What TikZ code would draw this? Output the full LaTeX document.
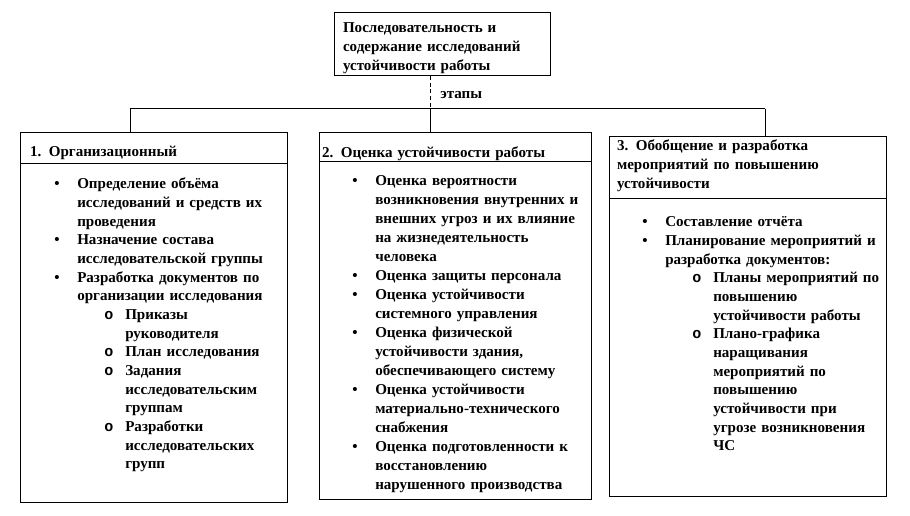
\documentclass[tikz,border=0pt]{standalone}
\usepackage{fontspec}
\setmainfont{Liberation Serif}
\setmonofont{Liberation Mono}
\newdimen\pix \pix=0.75pt
\newcommand{\nachalo}{\leftskip=57\pix\noindent\llap{\makebox[23\pix][l]{\textbullet}}}
\newcommand{\punkt}{\par\nachalo}
\newcommand{\podpunkt}{\par\leftskip=105\pix\noindent\llap{\makebox[21\pix][l]{\texttt{o}}}}
\tikzset{
  ramka/.style={draw, line width=0.75pt, outer sep=0pt, inner ysep=0pt, anchor=north west, align=left,
    font=\bfseries\fontsize{11.3}{13.9}\selectfont},
  spisok/.style={anchor=base west, inner sep=0pt, text width=300pt, align=left,
    font=\bfseries\fontsize{11.3}{14}\selectfont},
  linija/.style={line width=0.75pt}
}
\begin{document}
\begin{tikzpicture}[x=0.75pt, y=-0.75pt]
    \useasboundingbox (0,0) rectangle (910,516);
    % главный блок
    \node[ramka, minimum width=162pt, text height=15pt, text depth=32.25pt, inner xsep=6.75pt, text width=148.5pt]
      (glav) at (334,13) {Последовательность и\\содержание исследований\\устойчивости работы};
    % этапы
    \node[ramka, minimum width=200.25pt, text height=18pt, text depth=5.25pt, inner xsep=7.5pt, text width=185.25pt]
      (etap1) at (20,133) {1. Организационный};
    \node[ramka, minimum width=204pt, text height=18.75pt, text depth=3pt, inner xsep=2.25pt, text width=199.5pt]
      (etap2) at (319,133) {2. Оценка устойчивости работы};
    \node[ramka, minimum width=207.75pt, text height=10.5pt, text depth=36pt, inner xsep=6pt, text width=195.75pt]
      (etap3) at (609,137) {3. Обобщение и разработка\\мероприятий по повышению\\устойчивости};
    \node[ramka, minimum width=200.25pt, minimum height=253.5pt] (telo1) at (etap1.south west) {};
    \node[ramka, minimum width=204pt, minimum height=252.75pt] (telo2) at (etap2.south west) {};
    \node[ramka, minimum width=207.75pt, minimum height=222.75pt] (telo3) at (etap3.south west) {};
    % связи
    \coordinate (razv) at (430,109);
    \coordinate (lev) at (130,109);
    \coordinate (prav) at (765,109);
    \draw[linija, dash pattern=on 3pt off 2pt] (razv |- glav.south) -- (razv);
    \draw[linija] (lev) -- (prav);
    \draw[linija] (lev) -- (lev |- etap1.north);
    \draw[linija] (razv) -- (razv |- etap2.north);
    \draw[linija] (prav) -- (prav |- etap3.north);
    \node[anchor=west, inner sep=0pt, font=\bfseries\fontsize{11.3}{14}\selectfont] (etapy) at (440,95) {этапы};
    % содержание этапов
    \node[spisok] (sp1) at (20,189) {%
      \nachalo Определение объёма\\исследований и средств их\\проведения
      \punkt Назначение состава\\исследовательской группы
      \punkt Разработка документов  по\\организации исследования
      \podpunkt Приказы\\руководителя
      \podpunkt План исследования
      \podpunkt Задания\\исследовательским\\группам
      \podpunkt Разработки\\исследовательских\\групп\par};
    \node[spisok, font=\bfseries\fontsize{11.3}{14.25}\selectfont] (sp2) at (318,186) {%
      \nachalo Оценка вероятности\\возникновения внутренних и\\внешних угроз  и их влияние\\на жизнедеятельность\\человека
      \punkt Оценка защиты персонала
      \punkt Оценка устойчивости\\системного управления
      \punkt Оценка физической\\устойчивости здания,\\обеспечивающего  систему
      \punkt Оценка устойчивости\\материально-технического\\снабжения
      \punkt Оценка подготовленности к\\восстановлению\\нарушенного  производства\par};
    \node[spisok] (sp3) at (608,227) {%
      \nachalo Составление отчёта
      \punkt Планирование мероприятий и\\разработка  документов:
      \podpunkt Планы мероприятий по\\повышению\\устойчивости работы
      \podpunkt Плано-графика\\наращивания\\мероприятий по\\повышению\\устойчивости при\\угрозе  возникновения\\ЧС\par};
\end{tikzpicture}
\end{document}
